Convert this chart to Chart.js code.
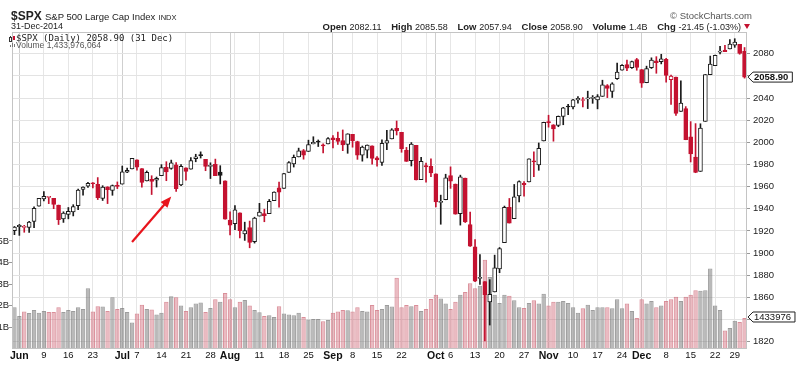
<!DOCTYPE html>
<html>
<head>
<meta charset="utf-8">
<script src="https://cdn.jsdelivr.net/npm/chart.js@4.4.1/dist/chart.umd.min.js"></script>
<style>
  body { margin: 0; background: #fff; }
  #wrap { position: relative; width: 800px; height: 365px; font-family: "Liberation Sans", Arial, sans-serif; color: #222; }
  canvas { position: absolute; left: 0; top: 0; }
  .t { position: absolute; white-space: nowrap; line-height: 1; }
  .hdr { font-size: 10px; }
  .hdr b { font-size: 9.5px; margin-left: 7px; }
  .hdr span { font-size: 9px; }
  .tri { display: inline-block; width: 0; height: 0; border-left: 3.5px solid transparent; border-right: 3.5px solid transparent; border-top: 5px solid #c41230; margin-left: 3px; vertical-align: 1px; }
  .mono { font-family: "DejaVu Sans Mono", monospace; font-size: 9px; }
  .ico { position: absolute; }
</style>
</head>
<body>
<div id="wrap">
  <canvas id="chart" width="800" height="365"></canvas>
  <div class="t" style="left:11px; top:10px; font-size:12px;"><b>$SPX</b> <span style="font-size:9.5px">S&amp;P 500 Large Cap Index</span> <span style="font-size:7.5px">INDX</span></div>
  <div class="t" style="left:11px; top:22px; font-size:9px;">31-Dec-2014</div>
  <div class="t" style="right:48px; top:11px; font-size:9.5px; color:#555;">&copy; StockCharts.com</div>
  <div class="t hdr" style="right:50px; top:22px;"><b>Open</b> <span>2082.11</span> <b>High</b> <span>2085.58</span> <b>Low</b> <span>2057.94</span> <b>Close</b> <span>2058.90</span> <b>Volume</b> <span>1.4B</span> <b>Chg</b> <span>-21.45 (-1.03%)</span><i class="tri"></i></div>
  <div class="ico" style="left:10px; top:36px; width:1px; height:6px; background:#333;"></div>
  <div class="ico" style="left:9px; top:37px; width:1px; height:3px; border:1px solid #333; background:#fff;"></div>
  <div class="ico" style="left:13px; top:36px; width:2px; height:4px; background:#c41230;"></div>
  <div class="t mono" style="left:16px; top:34px;">$SPX (Daily) 2058.90 (31 Dec)</div>
  <div class="ico" style="left:10px; top:45px; width:1px; height:2px; background:#777;"></div>
  <div class="ico" style="left:12px; top:43px; width:1px; height:4px; background:#777;"></div>
  <div class="ico" style="left:14px; top:44px; width:1px; height:3px; background:#777;"></div>
  <div class="t" style="left:16px; top:41px; font-size:8.5px; color:#555;">Volume 1,433,976,064</div>
</div>
<script>
// trading days, 30 May 2014 - 31 Dec 2014
const days = [
  '5/30',
  '6/2','6/3','6/4','6/5','6/6','6/9','6/10','6/11','6/12','6/13','6/16','6/17','6/18','6/19','6/20','6/23','6/24','6/25','6/26','6/27','6/30',
  '7/1','7/2','7/3','7/7','7/8','7/9','7/10','7/11','7/14','7/15','7/16','7/17','7/18','7/21','7/22','7/23','7/24','7/25','7/28','7/29','7/30','7/31',
  '8/1','8/4','8/5','8/6','8/7','8/8','8/11','8/12','8/13','8/14','8/15','8/18','8/19','8/20','8/21','8/22','8/25','8/26','8/27','8/28','8/29',
  '9/2','9/3','9/4','9/5','9/8','9/9','9/10','9/11','9/12','9/15','9/16','9/17','9/18','9/19','9/22','9/23','9/24','9/25','9/26','9/29','9/30',
  '10/1','10/2','10/3','10/6','10/7','10/8','10/9','10/10','10/13','10/14','10/15','10/16','10/17','10/20','10/21','10/22','10/23','10/24','10/27','10/28','10/29','10/30','10/31',
  '11/3','11/4','11/5','11/6','11/7','11/10','11/11','11/12','11/13','11/14','11/17','11/18','11/19','11/20','11/21','11/24','11/25','11/26','11/28',
  '12/1','12/2','12/3','12/4','12/5','12/8','12/9','12/10','12/11','12/12','12/15','12/16','12/17','12/18','12/19','12/22','12/23','12/24','12/26','12/29','12/30','12/31'
];

const opens = [
  1920.33,
  1923.87,1923.07,1923.06,1928.52,1942.41,1948.97,1950.34,1949.37,1943.35,1930.80,1934.84,1937.15,1942.73,1957.50,1960.45,1962.92,1961.97,1949.27,1959.89,1956.56,1960.79,
  1962.29,1973.06,1975.88,1984.22,1976.39,1965.10,1966.67,1965.76,1969.86,1977.36,1976.35,1979.75,1961.54,1976.93,1975.65,1985.32,1988.07,1984.60,1978.25,1980.03,1973.21,1965.14,
  1929.80,1926.62,1936.34,1917.29,1923.03,1910.35,1933.43,1935.73,1935.60,1947.41,1958.87,1958.36,1972.73,1980.46,1986.82,1992.60,1991.74,1998.59,2000.54,1997.42,1998.45,
  2004.07,2003.57,2001.67,1998.00,2007.17,2000.73,1988.41,1992.85,1996.74,1986.04,1981.93,1999.30,2003.07,2012.74,2009.08,1992.78,1983.34,1997.32,1966.22,1978.96,1978.21,
  1971.44,1945.83,1948.12,1970.01,1962.36,1935.55,1967.68,1925.63,1905.65,1877.11,1874.18,1855.95,1864.91,1885.62,1909.38,1941.29,1931.02,1951.59,1962.97,1964.14,1983.29,1979.49,2001.20,
  2018.21,2015.81,2015.29,2023.33,2032.36,2032.01,2038.20,2037.75,2039.21,2039.74,2038.29,2041.48,2051.16,2045.87,2057.46,2065.07,2070.15,2067.36,2074.78,
  2065.78,2053.77,2067.45,2073.64,2072.78,2074.84,2056.55,2058.86,2027.92,2030.36,2005.03,1986.71,1973.77,2018.98,2061.04,2069.28,2081.48,2083.25,2084.30,2087.63,2088.49,2082.11
];
const highs = [
  1924.03,
  1925.88,1925.07,1928.63,1941.74,1949.44,1955.55,1950.86,1949.37,1943.35,1937.30,1941.15,1943.69,1957.74,1959.87,1963.91,1963.74,1968.17,1960.83,1959.89,1961.47,1964.24,
  1978.58,1976.67,1985.59,1984.22,1976.39,1974.15,1969.84,1968.67,1979.85,1982.52,1983.94,1981.80,1979.91,1976.93,1986.24,1989.23,1991.39,1984.60,1981.52,1984.85,1978.90,1965.14,
  1937.35,1942.92,1936.34,1927.91,1928.89,1932.38,1944.90,1939.65,1948.41,1955.23,1964.04,1971.99,1982.57,1988.57,1994.76,1993.54,2001.95,2005.04,2002.14,1998.55,2004.28,
  2006.12,2009.28,2011.17,2007.71,2007.17,2001.01,1996.66,1997.65,1996.74,1987.18,2002.28,2010.74,2012.34,2019.26,2009.08,1995.41,1999.79,1997.32,1986.37,1981.28,1985.17,
  1971.44,1952.32,1971.19,1977.84,1962.36,1970.36,1967.68,1936.98,1912.09,1898.71,1874.18,1876.01,1898.16,1905.03,1942.45,1949.31,1961.95,1965.27,1964.64,1985.05,1991.40,1999.40,2018.19,
  2024.46,2015.98,2023.77,2031.61,2034.26,2038.70,2041.28,2040.33,2046.18,2042.22,2043.07,2056.08,2052.14,2053.84,2071.46,2070.17,2074.21,2073.29,2075.76,
  2065.78,2068.77,2076.28,2077.34,2079.47,2075.78,2060.60,2058.86,2055.53,2032.25,2018.69,2016.89,2016.75,2061.23,2077.85,2078.76,2086.73,2087.56,2092.70,2093.55,2088.49,2085.58
];
const lows = [
  1916.64,
  1915.98,1918.79,1918.60,1922.93,1942.41,1947.16,1944.64,1940.08,1925.78,1927.69,1930.91,1933.55,1939.29,1952.26,1959.17,1958.89,1948.34,1947.49,1944.69,1952.18,1958.22,
  1962.29,1972.58,1975.88,1974.88,1959.46,1965.10,1952.86,1959.63,1969.86,1965.34,1975.67,1955.59,1960.82,1965.77,1975.65,1982.44,1985.79,1974.37,1967.31,1969.95,1962.42,1930.67,
  1916.37,1921.20,1913.77,1911.45,1904.78,1909.01,1933.43,1928.29,1935.60,1947.41,1941.50,1958.36,1972.73,1977.68,1986.82,1984.76,1991.74,1998.59,1996.20,1990.52,1998.45,
  1994.85,1998.14,1992.44,1990.10,1995.60,1984.61,1982.99,1985.93,1980.26,1978.48,1979.06,1993.29,2003.07,2006.59,1991.01,1982.77,1978.63,1965.99,1966.22,1964.04,1968.96,
  1941.72,1926.03,1948.12,1958.43,1935.10,1925.25,1927.56,1906.05,1874.14,1871.79,1820.66,1835.02,1864.91,1882.30,1909.38,1927.11,1931.02,1946.27,1951.37,1964.14,1969.04,1974.75,2001.20,
  2013.68,2001.01,2014.09,2015.86,2025.07,2030.17,2035.28,2031.95,2030.44,2035.20,2030.20,2041.48,2040.37,2040.49,2056.75,2065.07,2064.75,2066.62,2065.06,
  2049.57,2053.77,2066.65,2062.34,2070.81,2054.27,2034.17,2024.26,2027.92,2002.33,1982.26,1972.56,1973.77,2018.98,2061.03,2069.28,2079.77,2081.86,2084.30,2085.75,2079.53,2057.94
];
const closes = [
  1923.57,
  1924.97,1924.24,1927.88,1940.46,1949.44,1951.27,1950.79,1943.89,1930.11,1936.16,1937.78,1941.99,1956.98,1959.48,1962.87,1962.61,1949.98,1959.53,1957.22,1960.96,1960.23,
  1973.32,1974.62,1985.44,1977.65,1963.71,1972.83,1964.68,1967.57,1977.10,1973.28,1981.57,1958.12,1978.22,1973.63,1983.53,1987.01,1987.98,1978.34,1978.91,1969.95,1970.07,1930.67,
  1925.15,1938.99,1920.21,1920.24,1909.57,1931.59,1936.92,1933.75,1946.72,1955.18,1955.06,1971.74,1981.60,1986.51,1992.37,1988.40,1997.92,2000.02,2000.12,1996.74,2003.37,
  2002.28,2000.72,1997.65,2007.71,2001.54,1988.44,1995.69,1997.45,1985.54,1984.13,1998.98,2001.57,2011.36,2010.40,1994.29,1982.77,1998.30,1965.99,1982.85,1977.80,1972.29,
  1946.16,1946.17,1967.90,1964.82,1935.10,1968.89,1928.21,1906.13,1874.74,1877.70,1862.49,1862.76,1886.76,1904.01,1941.28,1927.11,1950.82,1964.58,1961.63,1985.05,1982.30,1994.65,2018.05,
  2017.81,2012.10,2023.57,2031.21,2031.92,2038.26,2039.68,2038.25,2039.33,2039.82,2041.32,2051.80,2048.72,2052.75,2063.50,2069.41,2067.03,2072.83,2067.56,
  2053.44,2066.55,2074.33,2071.92,2075.37,2060.31,2059.82,2026.14,2035.33,2002.33,1989.63,1972.74,2012.89,2061.23,2070.65,2078.54,2082.17,2081.88,2088.77,2090.57,2080.35,2058.90
];
const priorClose = 1920.03;

// volume, billions of shares
const volumes = [
  1.93,
  1.53,1.73,1.67,1.80,1.68,1.76,1.71,1.71,1.93,1.71,1.80,1.76,1.93,1.85,2.81,1.73,1.98,1.96,1.76,2.39,1.85,
  1.90,1.71,1.23,1.64,2.05,1.85,1.83,1.59,1.68,2.18,2.44,2.39,2.01,1.76,1.93,2.10,2.15,1.71,1.90,2.30,2.18,2.59,
  2.30,1.93,2.18,2.27,2.01,1.80,1.70,1.53,1.56,1.48,1.98,1.64,1.60,1.56,1.68,1.48,1.36,1.39,1.39,1.28,1.34,
  1.68,1.73,1.80,1.79,1.73,1.93,1.76,1.73,2.03,1.80,1.85,2.03,1.96,3.30,1.93,2.03,1.98,2.03,1.76,1.85,2.31,
  2.51,2.34,2.10,1.85,2.18,2.51,2.64,3.04,2.81,2.93,4.13,3.33,2.51,2.13,2.51,2.46,2.26,1.93,1.90,2.13,2.25,2.10,2.55,
  2.01,2.18,2.18,2.22,2.13,1.93,1.68,1.88,2.05,1.80,1.93,1.93,1.93,1.88,2.30,1.88,2.10,1.76,1.43,
  2.30,2.10,2.22,1.93,2.01,2.22,2.30,2.42,2.22,2.42,2.51,2.72,2.69,2.72,3.72,2.01,1.80,0.85,0.97,1.31,1.25,1.433976
];

// axis ticks
const priceTicks = [1820, 1840, 1860, 1880, 1900, 1920, 1940, 1960, 1980, 2000, 2020, 2040, 2060, 2080];
const volumeTicks = [1, 2, 3, 4, 5];
const weekStarts = ['6/2','6/9','6/16','6/23','6/30','7/7','7/14','7/21','7/28','8/4','8/11','8/18','8/25','9/2','9/8','9/15','9/22','9/29',
  '10/6','10/13','10/20','10/27','11/3','11/10','11/17','11/24','12/1','12/8','12/15','12/22','12/29'];
const monthStarts = ['6/2','7/1','8/1','9/2','10/1','11/3','12/1'];
const monthNames = ['Jun','Jul','Aug','Sep','Oct','Nov','Dec'];
const unlabeledWeeks = ['6/30','8/4','9/29'];

// red arrow: from [day, price] to [day, price]
const arrowFrom = ['7/3', 1910];
const arrowTo = ['7/16', 1951];

const RED = '#c41230';
const BLACK = '#1a1a1a';

const prevClose = i => (i === 0 ? priorClose : closes[i - 1]);
const isDown = i => closes[i] < prevClose(i);
const candleColor = days.map((_, i) => (isDown(i) ? RED : BLACK));
const bodyFill = days.map((_, i) => (closes[i] > opens[i] ? '#ffffff' : candleColor[i]));
const volFill = days.map((_, i) => (isDown(i) ? 'rgba(212,112,128,0.48)' : 'rgba(135,135,135,0.58)'));
const volLine = days.map((_, i) => (isDown(i) ? 'rgba(205,105,120,0.75)' : 'rgba(115,115,115,0.7)'));

function tickText(i) {
  const d = days[i];
  const m = monthStarts.indexOf(d);
  if (m >= 0) return monthNames[m];
  if (weekStarts.includes(d) && !unlabeledWeeks.includes(d)) return d.split('/')[1];
  return '';
}

function drawTag(ctx, x, y, text, bold) {
  ctx.font = (bold ? 'bold ' : '') + '9.5px "Liberation Sans", Arial, sans-serif';
  const w = ctx.measureText(text).width + 10;
  const h = 10;
  ctx.beginPath();
  ctx.moveTo(x, y);
  ctx.lineTo(x + 5, y - h / 2);
  ctx.lineTo(x + w, y - h / 2);
  ctx.lineTo(x + w, y + h / 2);
  ctx.lineTo(x + 5, y + h / 2);
  ctx.closePath();
  ctx.fillStyle = '#fff';
  ctx.fill();
  ctx.strokeStyle = '#222';
  ctx.lineWidth = 1;
  ctx.stroke();
  ctx.fillStyle = '#111';
  ctx.textBaseline = 'middle';
  ctx.textAlign = 'left';
  ctx.fillText(text, x + 6, y + 0.5);
}

const overlay = {
  id: 'overlay',
  afterDraw(chart) {
    const { ctx, chartArea: a } = chart;
    const { x, y, yv } = chart.scales;
    ctx.save();
    // plot frame
    ctx.strokeStyle = '#c4c4c4';
    ctx.lineWidth = 1;
    ctx.strokeRect(a.left + 0.5, a.top + 0.5, a.width - 1, a.height - 1);

    // annotation arrow
    const x0 = x.getPixelForValue(days.indexOf(arrowFrom[0]));
    const y0 = y.getPixelForValue(arrowFrom[1]);
    const x1 = x.getPixelForValue(days.indexOf(arrowTo[0]));
    const y1 = y.getPixelForValue(arrowTo[1]);
    const ang = Math.atan2(y1 - y0, x1 - x0);
    const head = 11;
    ctx.strokeStyle = '#e8141c';
    ctx.fillStyle = '#e8141c';
    ctx.lineWidth = 2.2;
    ctx.beginPath();
    ctx.moveTo(x0, y0);
    ctx.lineTo(x1 - Math.cos(ang) * head * 0.8, y1 - Math.sin(ang) * head * 0.8);
    ctx.stroke();
    ctx.beginPath();
    ctx.moveTo(x1, y1);
    ctx.lineTo(x1 - Math.cos(ang) * head + Math.sin(ang) * 4.5, y1 - Math.sin(ang) * head - Math.cos(ang) * 4.5);
    ctx.lineTo(x1 - Math.cos(ang) * head - Math.sin(ang) * 4.5, y1 - Math.sin(ang) * head + Math.cos(ang) * 4.5);
    ctx.closePath();
    ctx.fill();

    // last value tags
    const last = days.length - 1;
    drawTag(ctx, a.right + 1, y.getPixelForValue(closes[last]), closes[last].toFixed(2), true);
    drawTag(ctx, a.right + 1, yv.getPixelForValue(volumes[last]) - 1, String(Math.round(volumes[last] * 1e6)), false);
    ctx.restore();
  }
};

new Chart(document.getElementById('chart'), {
  type: 'bar',
  data: {
    labels: days,
    datasets: [
      {
        label: 'Volume',
        data: volumes,
        yAxisID: 'yv',
        grouped: false,
        order: 3,
        backgroundColor: volFill,
        borderColor: volLine,
        borderWidth: 1,
        borderSkipped: 'bottom',
        barPercentage: 0.9,
        categoryPercentage: 1
      },
      {
        label: 'Range',
        data: lows.map((l, i) => [l, highs[i]]),
        yAxisID: 'y',
        grouped: false,
        order: 2,
        barThickness: 1,
        backgroundColor: candleColor
      },
      {
        label: '$SPX',
        data: opens.map((o, i) => [o, closes[i]]),
        yAxisID: 'y',
        grouped: false,
        order: 1,
        barThickness: 4,
        minBarLength: 1,
        backgroundColor: bodyFill,
        borderColor: candleColor,
        borderWidth: 1,
        borderSkipped: false
      }
    ]
  },
  options: {
    responsive: false,
    animation: false,
    layout: { padding: { top: 32, left: 0, right: 0, bottom: 0 } },
    plugins: {
      legend: { display: false },
      tooltip: { enabled: false }
    },
    scales: {
      x: {
        type: 'category',
        offset: true,
        border: { display: false },
        grid: {
          offset: false,
          drawTicks: false,
          color: (c) => {
            const d = days[c.index];
            if (monthStarts.includes(d)) return '#cfcfcf';
            if (weekStarts.includes(d)) return '#e6e6e6';
            return 'rgba(0,0,0,0)';
          }
        },
        ticks: {
          autoSkip: false,
          maxRotation: 0,
          padding: 1,
          color: '#111',
          callback: (v, i) => tickText(i),
          font: (c) => {
            const month = monthStarts.includes(days[c.index]);
            return { family: '"Liberation Sans", Arial, sans-serif', size: month ? 10.5 : 9.5, weight: month ? 'bold' : 'normal' };
          }
        },
        afterFit: (s) => { s.height = 16; }
      },
      y: {
        position: 'right',
        min: 1813.4,
        max: 2099.6,
        afterBuildTicks: (s) => { s.ticks = priceTicks.map((v) => ({ value: v })); },
        border: { display: false },
        grid: { color: '#e3e3e3', tickLength: 3, tickColor: '#999' },
        ticks: { color: '#222', padding: 3, callback: (v) => String(v), font: { family: '"Liberation Sans", Arial, sans-serif', size: 9.5 } },
        afterFit: (s) => { s.width = 53; }
      },
      yv: {
        position: 'left',
        min: 0,
        max: 14.66,
        afterBuildTicks: (s) => { s.ticks = volumeTicks.map((v) => ({ value: v })); },
        border: { display: false },
        grid: { drawOnChartArea: false, tickLength: 3, tickColor: '#999' },
        ticks: { color: '#222', padding: 0, callback: (v) => v + 'B', font: { family: '"Liberation Sans", Arial, sans-serif', size: 9.5 } },
        afterFit: (s) => { s.width = 12; }
      }
    }
  },
  plugins: [overlay]
});
</script>
</body>
</html>
